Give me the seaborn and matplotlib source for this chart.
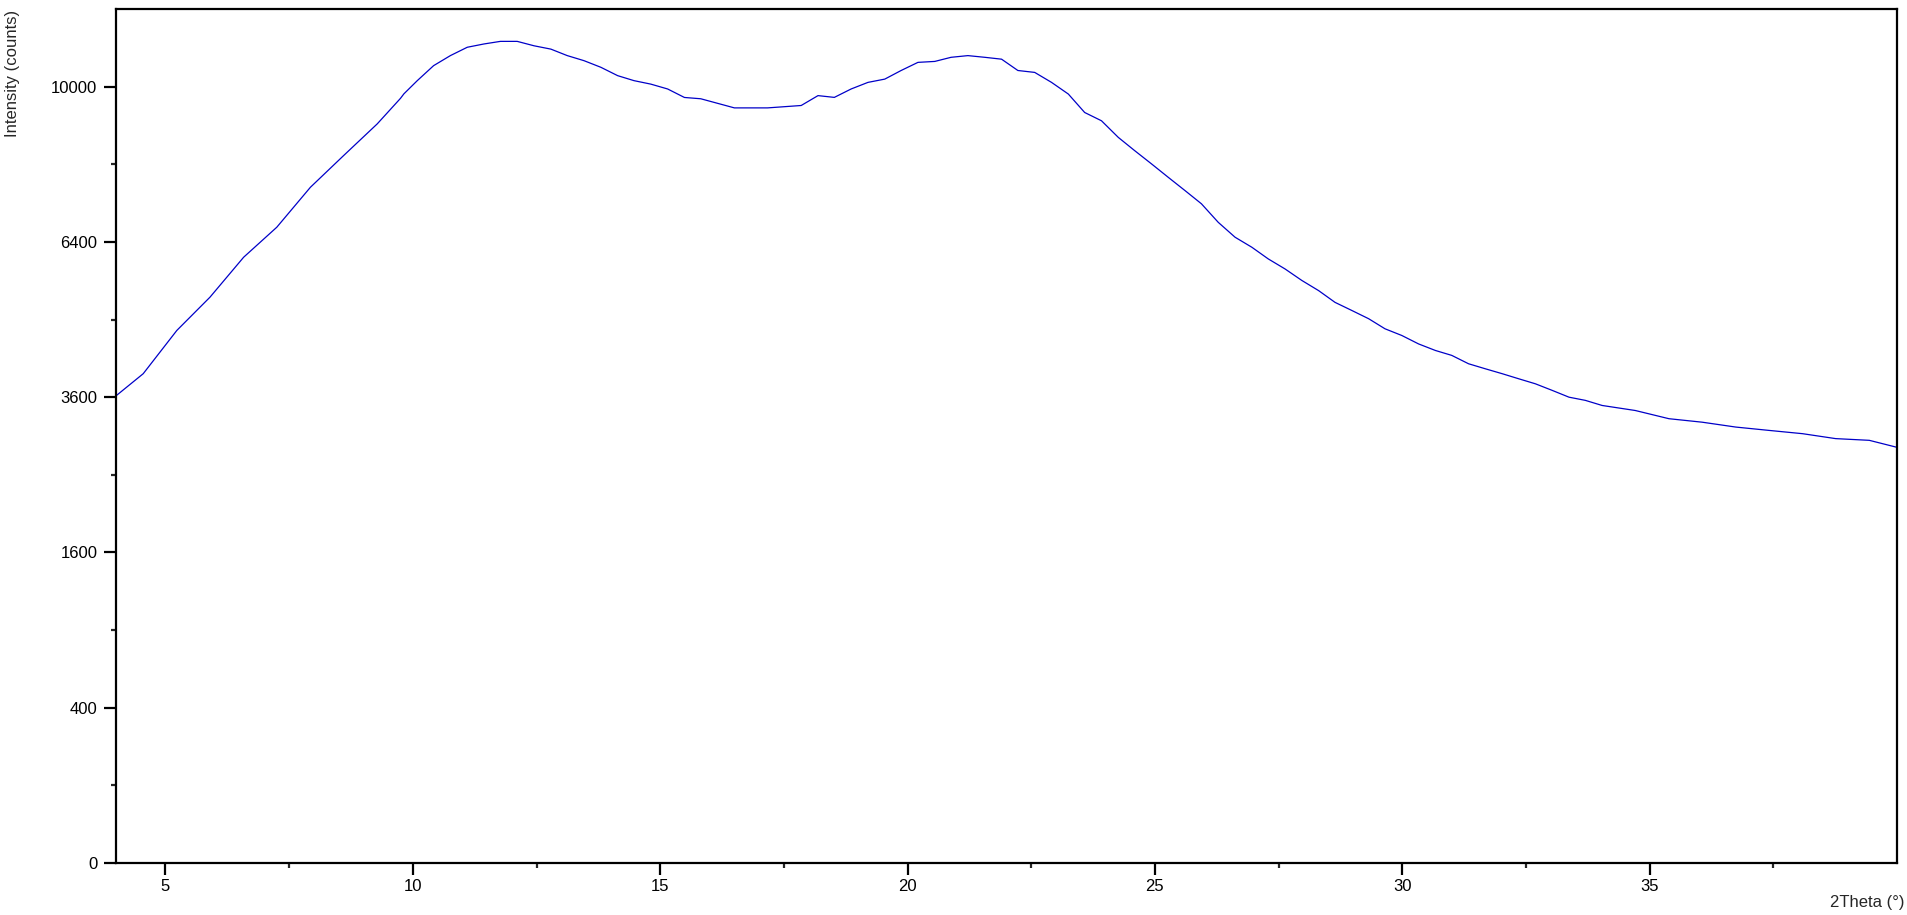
import numpy as np
import pandas as pd
import matplotlib
matplotlib.use("Agg")
import matplotlib.pyplot as plt
import seaborn as sns

# 2Theta positions (degrees) and intensity readings (counts)
two_theta = [4.01, 4.55, 5.23, 5.90, 6.58, 7.25, 7.93, 8.60, 9.28, 9.75, 9.82,
             10.09, 10.42, 10.76, 11.10, 11.44, 11.77, 12.11, 12.45, 12.79,
             13.12, 13.46, 13.80, 14.14, 14.47, 14.81, 15.15, 15.49, 15.82,
             16.50, 17.17, 17.85, 18.19, 18.52, 18.86, 19.20, 19.54, 19.87,
             20.21, 20.55, 20.88, 21.22, 21.56, 21.90, 22.23, 22.57, 22.91,
             23.25, 23.58, 23.92, 24.26, 24.59, 24.93, 25.27, 25.61, 25.94,
             26.28, 26.62, 26.96, 27.29, 27.63, 27.97, 28.31, 28.64, 28.98,
             29.32, 29.65, 29.99, 30.33, 30.67, 31.00, 31.34, 31.68, 32.02,
             32.35, 32.69, 33.03, 33.37, 33.70, 34.04, 34.71, 35.39, 36.06,
             36.74, 37.41, 38.09, 38.76, 39.44, 39.98]
intensity = [3627, 3972, 4706, 5312, 6088, 6706, 7576, 8302, 9063, 9700, 9816,
             10155, 10548, 10816, 11040, 11130, 11200, 11200, 11080, 10990,
             10816, 10680, 10505, 10285, 10155, 10065, 9940, 9723, 9690,
             9460, 9460, 9520, 9770, 9725, 9940, 10110, 10195, 10420,
             10635, 10660, 10770, 10815, 10770, 10720, 10420, 10370, 10110,
             9810, 9345, 9140, 8735, 8420, 8110, 7800, 7500, 7210,
             6810, 6497, 6290, 6055, 5855, 5630, 5435, 5215, 5065,
             4915, 4735, 4617, 4470, 4358, 4275, 4135, 4052, 3972,
             3891, 3810, 3706, 3600, 3551, 3473, 3397, 3275, 3224,
             3153, 3105, 3058, 2988, 2964, 2870]

x_major = [5, 10, 15, 20, 25, 30, 35]
x_minor = [7.5, 12.5, 17.5, 22.5, 27.5, 32.5, 37.5]
y_major = [0, 400, 1600, 3600, 6400, 10000]
y_minor = [100, 900, 2500, 4900, 8100]

df = pd.DataFrame({"2Theta": two_theta, "Intensity": intensity})

sns.set_style("ticks")
plt.rcParams["font.family"] = ["Liberation Sans", "DejaVu Sans"]

fig = plt.figure(figsize=(19.07, 9.15), dpi=100)
ax = fig.add_axes([116/1907, 1-863/915, (1897-116)/1907, (863-9)/915])

sns.lineplot(data=df, x="2Theta", y="Intensity", ax=ax, color="#0000C8",
             linewidth=0.9, estimator=None, sort=False)

ax.set_yscale("function", functions=(lambda v: np.sqrt(np.clip(v, 0, None)),
                                     lambda v: np.square(v)))
ax.set_xlim(4.0, 40.0)
ax.set_ylim(0, 12100)
ax.set_xticks(x_major)
ax.set_xticks(x_minor, minor=True)
ax.set_yticks(y_major)
ax.set_yticks(y_minor, minor=True)
ax.set_xticklabels([str(v) for v in x_major])
ax.set_yticklabels([str(v) for v in y_major])
ax.set_xlabel("")
ax.set_ylabel("")

for s in ax.spines.values():
    s.set_linewidth(1.6)
    s.set_color("black")
    s.set_visible(True)

ax.tick_params(axis="both", which="major", direction="out", length=8.5,
               width=1.6, labelsize=12, colors="black")
ax.tick_params(axis="both", which="minor", direction="out", length=3.5,
               width=1.6)
ax.tick_params(axis="x", which="major", pad=3)
ax.tick_params(axis="y", which="major", pad=5)

fig.text(13/1907, 1-10/915, "Intensity (counts)", rotation=90, ha="center",
         va="top", fontsize=12)
fig.text(1905/1907, 1-903/915, "2Theta (°)", ha="right", va="center",
         fontsize=12)

fig.savefig("out.png", dpi=100, facecolor="white")
